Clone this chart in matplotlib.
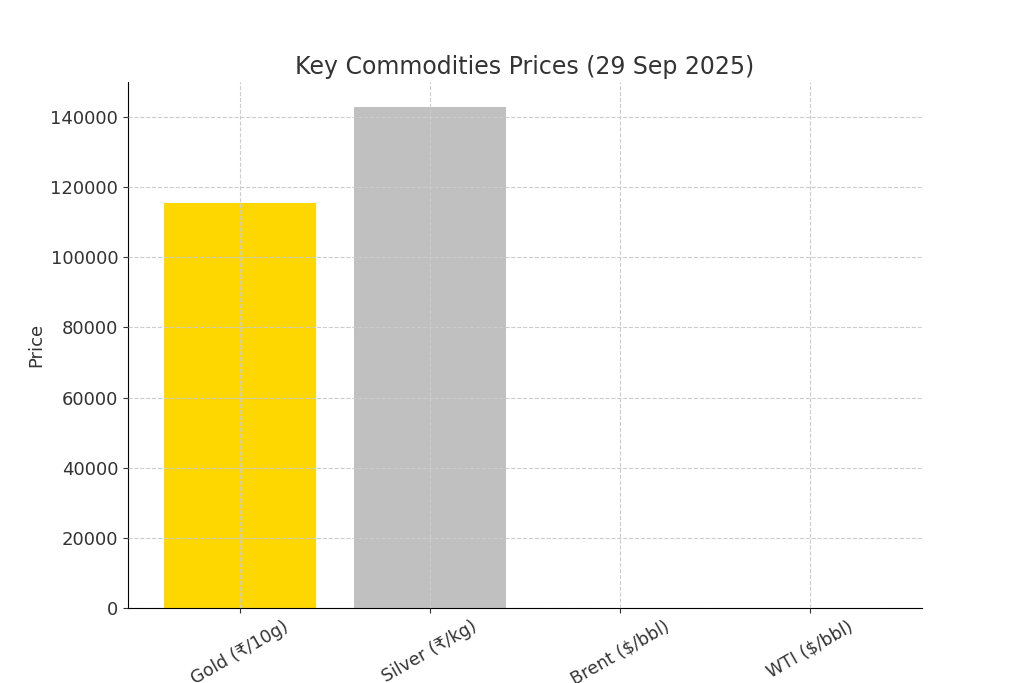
import matplotlib
matplotlib.use("Agg")
import matplotlib.pyplot as plt

categories = ["Gold (₹/10g)", "Silver (₹/kg)", "Brent ($/bbl)", "WTI ($/bbl)"]
values = [115500, 143000, 67, 63]
colors = ["#FFD700", "#C0C0C0", "#000000", "#8B4513"]

plt.rcParams['font.family'] = ['DejaVu Sans', 'Noto Sans']
plt.rcParams['text.color'] = '#333333'
plt.rcParams['axes.labelcolor'] = '#333333'
plt.rcParams['xtick.color'] = '#333333'
plt.rcParams['ytick.color'] = '#333333'

fig, ax = plt.subplots(figsize=(10.24, 6.83), dpi=100)
ax.bar(categories, values, color=colors)
ax.set_title("Key Commodities Prices (29 Sep 2025)", fontsize=17)
ax.set_ylabel("Price", fontsize=13)
ax.set_ylim(0, 150000)
ax.grid(True, linestyle='--', color='#cccccc', linewidth=0.8)
ax.set_axisbelow(False)
ax.spines['top'].set_visible(False)
ax.spines['right'].set_visible(False)
ax.tick_params(axis='y', labelsize=13)
ax.tick_params(axis='x', labelsize=12.5)
plt.setp(ax.get_xticklabels(), rotation=30)
fig.savefig("out.png")
